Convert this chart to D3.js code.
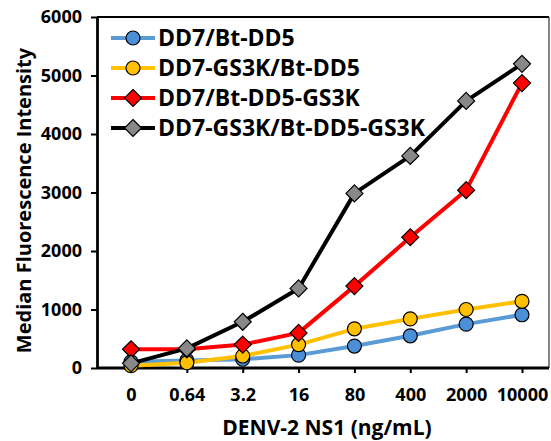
<!DOCTYPE html>
<html>
<head>
<meta charset="utf-8">
<script src="https://cdn.jsdelivr.net/npm/d3@7"></script>
<style>
  body { margin: 0; background: #fff; }
  text { font-family: "Open Sans", sans-serif; }
</style>
</head>
<body>
<svg id="chart" width="551" height="441"></svg>
<script>
var concs = ["0", "0.64", "3.2", "16", "80", "400", "2000", "10000"];
var yTicks = [0, 1000, 2000, 3000, 4000, 5000, 6000];

var seriesNames = ["DD7/Bt-DD5", "DD7-GS3K/Bt-DD5", "DD7/Bt-DD5-GS3K", "DD7-GS3K/Bt-DD5-GS3K"];
var blueVals   = [105, 130, 150, 220, 375, 550, 750, 910];
var yellowVals = [40, 90, 205, 400, 670, 840, 1000, 1140];
var redVals    = [320, 320, 400, 600, 1400, 2235, 3040, 4870];
var blackVals  = [80, 335, 790, 1360, 2985, 3625, 4565, 5200];

var series = [
  {name: seriesNames[0], values: blueVals,   line: "#5b9bd5", fill: "#4a8fd8", shape: "circle"},
  {name: seriesNames[1], values: yellowVals, line: "#ffc000", fill: "#ffc000", shape: "circle"},
  {name: seriesNames[2], values: redVals,    line: "#ff0000", fill: "#ff0000", shape: "diamond"},
  {name: seriesNames[3], values: blackVals,  line: "#000000", fill: "#888888", shape: "diamond"}
];

var svg = d3.select("#chart"),
    margin = {top: 17, right: 2, bottom: 73, left: 97},
    width = +svg.attr("width") - margin.left - margin.right,
    height = +svg.attr("height") - margin.top - margin.bottom;

var g = svg.append("g")
    .attr("transform", "translate(" + margin.left + "," + margin.top + ")");

var x = d3.scalePoint().domain(concs).range([34, 425]);
var y = d3.scaleLinear().domain([0, 6000]).range([height, 0]);

function marker(sel, s, size) {
  if (s.shape === "circle") {
    sel.append("circle").attr("r", size);
  } else {
    var h = size + 1.5;
    sel.append("path").attr("d", "M0," + (-h) + "L" + h + ",0L0," + h + "L" + (-h) + ",0Z");
  }
  sel.selectAll("circle,path")
      .attr("fill", s.fill)
      .attr("stroke", "#000")
      .attr("stroke-width", 1.2);
}

// frame: top and right edges (left and bottom are the axes)
g.append("line")
    .attr("x1", 0).attr("x2", width).attr("y1", 0).attr("y2", 0)
    .attr("stroke", "#000").attr("stroke-width", 2);
g.append("line")
    .attr("x1", width).attr("x2", width).attr("y1", 0).attr("y2", height)
    .attr("stroke", "#333").attr("stroke-width", 1.2);

var xAxis = g.append("g")
    .attr("transform", "translate(0," + height + ")")
    .call(d3.axisBottom(x).tickSize(5).tickPadding(15).tickSizeOuter(0));
xAxis.select(".domain").attr("d", "M0,0H" + width).attr("stroke-width", 2.8);
xAxis.selectAll("line").attr("stroke-width", 2);
xAxis.selectAll("text")
    .attr("font-size", "18px").attr("font-weight", "bold").attr("fill", "#000")
    .attr("font-family", "Open Sans");

var yAxis = g.append("g")
    .call(d3.axisLeft(y).tickValues(yTicks).tickFormat(d3.format("d")).tickSize(6).tickPadding(9).tickSizeOuter(0));
yAxis.select(".domain").attr("stroke-width", 2.8);
yAxis.selectAll("line").attr("stroke-width", 2);
yAxis.selectAll("text")
    .attr("font-size", "18px").attr("font-weight", "bold").attr("fill", "#000")
    .attr("font-family", "Open Sans");

var line = d3.line()
    .x(function(d, i) { return x(concs[i]); })
    .y(function(d) { return y(d); });

series.forEach(function(s) {
  g.append("path")
      .datum(s.values)
      .attr("fill", "none")
      .attr("stroke", s.line)
      .attr("stroke-width", 4)
      .attr("stroke-linejoin", "round")
      .attr("d", line);
});

series.forEach(function(s) {
  g.append("g").selectAll("g")
      .data(s.values)
    .enter().append("g")
      .attr("transform", function(d, i) { return "translate(" + x(concs[i]) + "," + y(d) + ")"; })
      .each(function() { marker(d3.select(this), s, 7); });
});

// legend
var legend = g.append("g").attr("transform", "translate(14,21)");
series.forEach(function(s, i) {
  var row = legend.append("g").attr("transform", "translate(0," + (i * 30) + ")");
  row.append("line")
      .attr("x1", 0).attr("x2", 44)
      .attr("stroke", s.line).attr("stroke-width", 4);
  var m = row.append("g").attr("transform", "translate(22,0)");
  marker(m, s, 7);
  row.append("text")
      .attr("x", 47).attr("dy", "0.36em")
      .attr("font-size", "23px").attr("font-weight", "bold")
      .text(s.name);
});

// axis titles
svg.append("text")
    .attr("x", 327)
    .attr("y", 435)
    .attr("text-anchor", "middle")
    .attr("font-size", "21px").attr("font-weight", "bold")
    .text("DENV-2 NS1 (ng/mL)");

svg.append("text")
    .attr("transform", "translate(31," + (margin.top + height / 2 + 8) + ") rotate(-90)")
    .attr("text-anchor", "middle")
    .attr("font-size", "20px").attr("font-weight", "bold")
    .text("Median Fluorescence Intensity");
</script>
</body>
</html>
